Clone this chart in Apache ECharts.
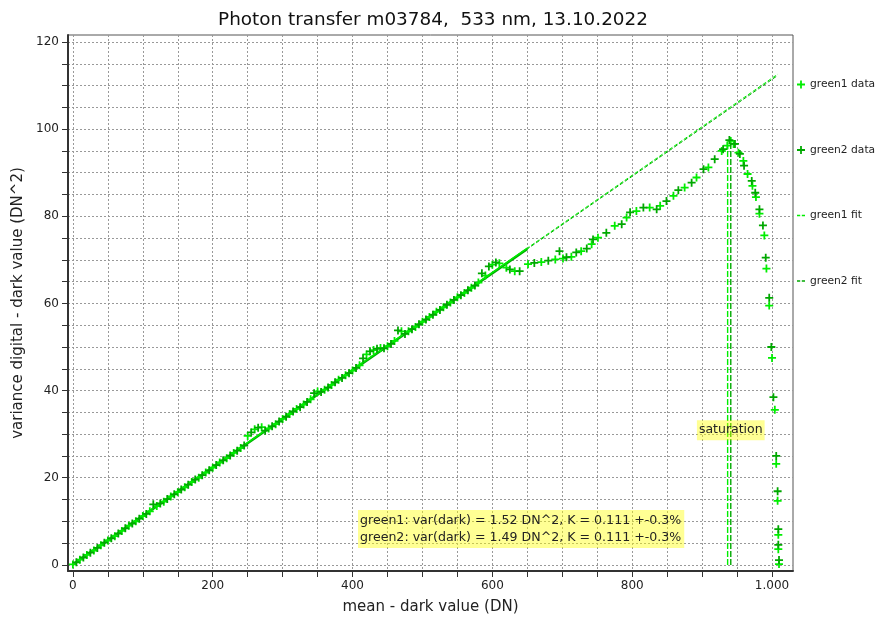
<!DOCTYPE html>
<html>
<head>
<meta charset="utf-8">
<script src="https://cdn.jsdelivr.net/npm/echarts@6/dist/echarts.min.js"></script>
<style>
  html, body { margin: 0; padding: 0; background: #fff; }
  #main { width: 878px; height: 621px; }
</style>
</head>
<body>
<div id="main"></div>
<script>
// green1 data (bright)
var g1X = [0,10,20,30,40,50,60,70,80,90,100,110,120,130,140,150,160,170,180,190,200,210,220,230,240,250,260,270,280,290,300,310,320,330,340,350,360,370,380,390,400,410,420,430,440,450,460,470,480,490,500,510,520,530,540,550,560,570,580,590,600,610,
  620,632,651,670,690,701,713,727,742,751,775,792,806,825,840,859,875,892,909,928,936,941,945,952,959,965,972,977,982,989,992,996,1000,1004,1006,1008,1009,1009,1010];
var g1Y = [0.1,1.2,2.3,3.3,4.5,5.6,6.6,7.8,9.0,10.0,11.2,12.3,13.5,14.5,15.7,16.7,17.8,19.0,20.0,21.2,22.3,23.5,24.5,25.7,26.8,29.6,31.1,31.6,31.3,32.3,33.5,34.6,35.8,36.8,38.0,39.8,40.2,41.3,42.5,43.5,44.6,45.8,48.3,49.3,49.8,50.2,51.4,53.6,53.6,54.6,55.8,56.9,58.1,59.1,60.2,61.4,62.4,63.6,64.8,66.4,68.9,69.2,
  68.2,67.4,69.0,69.5,70.1,70.3,70.7,72.0,73.6,75.1,77.8,79.7,81.2,82.0,82.4,84.7,86.6,88.9,91.2,95.0,96.2,97.3,96.6,94.6,92.7,89.7,87.0,84.4,80.6,75.6,68.0,59.5,47.5,35.6,23.2,14.7,6.9,3.6,0.2];

// green2 data (dark)
var g2X = [5,15,25,35,45,55,65,75,85,95,105,115,125,135,145,155,165,175,185,195,205,215,225,235,245,255,265,275,285,295,305,315,325,335,345,355,365,375,385,395,405,415,425,435,445,455,465,475,485,495,505,515,525,535,545,555,565,575,585,595,605,
  625,639,660,680,696,706,720,735,744,763,785,797,816,835,849,866,885,902,918,930,939,947,954,960,971,976,982,987,991,996,999,1002,1006,1008,1009,1009,1010];
var g2Y = [0.6,1.7,2.8,3.9,5.1,6.1,7.2,8.4,9.5,10.6,11.7,13.9,14.1,15.1,16.2,17.3,18.4,19.6,20.6,21.7,22.9,24.0,25.1,26.2,27.4,30.4,31.5,30.8,31.8,32.9,34.0,35.2,36.2,37.4,39.4,39.7,40.7,41.9,42.9,44.0,45.2,47.4,49.0,49.6,49.7,50.7,53.8,53.0,54.1,55.2,56.3,57.4,58.5,59.7,60.8,61.9,63.0,64.1,66.9,68.5,69.4,
  67.8,67.4,69.3,69.8,72.0,70.6,71.7,72.6,74.7,76.2,78.2,80.9,82.0,81.6,83.5,86.0,87.7,90.8,93.1,95.4,97.5,96.6,94.3,91.6,88.1,85.4,81.6,77.9,70.5,61.3,50.0,38.5,25.0,16.9,8.2,4.6,1.1];

// fits: fitted range (solid) and extrapolation (dashed)
var fitX = [0, 650, 1008];
var g1Fit = [0.2, 72.7, 112.6];
var g2Fit = [0.1, 72.5, 112.3];

// saturation markers
var satX = [936.5, 941];
var satTop = [97.3, 97.3];
var satLabel = { x: 941, y: 30.9, text: 'saturation' };

var xTicks = [0,50,100,150,200,250,300,350,400,450,500,550,600,650,700,750,800,850,900,950,1000];
var xLabels = [0,200,400,600,800,1000];
var yTicks = [0,5,10,15,20,25,30,35,40,45,50,55,60,65,70,75,80,85,90,95,100,105,110,115,120];
var yLabels = [0,20,40,60,80,100,120];

var infoLines = [
  'green1: var(dark) = 1.52 DN^2, K = 0.111 +-0.3%',
  'green2: var(dark) = 1.49 DN^2, K = 0.111 +-0.3%'
];

var C1 = '#00ee00';
var C2 = '#00a800';
var PLUS = 'path://M3.5,0H5.5V3.5H9V5.5H5.5V9H3.5V5.5H0V3.5H3.5Z';
var DASH = 'path://M0,0H4V2H0Z M6,0H10V2H6Z';
var FONT = 'DejaVu Sans';

function pairs(xs, ys) {
  return xs.map(function (x, i) { return [x, ys[i]]; });
}

var myChart = echarts.init(document.getElementById('main'));

var option = {
  animation: false,
  backgroundColor: '#fff',
  textStyle: { fontFamily: FONT },
  title: {
    text: 'Photon transfer m03784,  533 nm, 13.10.2022',
    left: 428,
    textAlign: 'center',
    top: 6,
    textStyle: { fontFamily: FONT, fontSize: 18.4, fontWeight: 'normal', color: '#111' }
  },
  legend: {
    data: [
      { name: 'green1 data', icon: PLUS, itemStyle: { color: C1 } },
      { name: 'green2 data', icon: PLUS, itemStyle: { color: C2 } },
      { name: 'green1 fit', icon: DASH, itemStyle: { color: C1, opacity: 1 } },
      { name: 'green2 fit', icon: DASH, itemStyle: { color: C2, opacity: 1 } }
    ],
    orient: 'vertical',
    left: 797,
    top: 79,
    padding: 0,
    itemGap: 54.5,
    itemWidth: 8,
    itemHeight: 8,
    symbolKeepAspect: true,
    textStyle: { fontFamily: FONT, fontSize: 10.7, color: '#222' }
  },
  grid: {
    left: 68, right: 85, top: 35, bottom: 50,
    show: true, borderColor: '#555', borderWidth: 1
  },
  xAxis: {
    type: 'value',
    min: -7, max: 1030,
    name: 'mean - dark value (DN)',
    nameLocation: 'middle',
    nameGap: 29,
    nameTextStyle: { fontFamily: FONT, fontSize: 15, color: '#222' },
    axisLine: { onZero: false, lineStyle: { color: '#333', width: 2 } },
    axisTick: { customValues: xTicks, length: 6, lineStyle: { color: '#333' } },
    axisLabel: {
      customValues: xLabels,
      fontFamily: FONT, fontSize: 12, color: '#222', margin: 9,
      formatter: function (v) { return v === 1000 ? '1.000' : String(v); }
    },
    splitLine: { show: true, lineStyle: { color: '#999', type: [2, 2], width: 1 } }
  },
  yAxis: {
    type: 'value',
    min: -1.4, max: 121.6,
    name: 'variance digital - dark value (DN^2)',
    nameLocation: 'middle',
    nameGap: 42,
    nameTextStyle: { fontFamily: FONT, fontSize: 15, color: '#222' },
    axisLine: { show: true, onZero: false, lineStyle: { color: '#333', width: 2 } },
    axisTick: { show: true, customValues: yTicks, length: 6, lineStyle: { color: '#333' } },
    axisLabel: { customValues: yLabels, fontFamily: FONT, fontSize: 12, color: '#222', margin: 9 },
    splitLine: { show: true, lineStyle: { color: '#999', type: [2, 2], width: 1 } }
  },
  graphic: [{
    type: 'text',
    left: 358,
    top: 510,
    z: 50,
    style: {
      text: infoLines.join('\n'),
      fontFamily: FONT,
      fontSize: 12.6,
      lineHeight: 17,
      fill: '#222',
      backgroundColor: 'rgba(255,255,0,0.42)',
      padding: [2, 3, 2, 2]
    }
  }],
  series: [
    {
      name: 'green2 fit',
      type: 'line',
      data: pairs(fitX, g2Fit),
      symbol: 'none',
      lineStyle: { color: C2, width: 1, type: [4, 2] },
      itemStyle: { color: C2 },
      z: 3
    },
    {
      name: 'green1 fit',
      type: 'line',
      data: pairs(fitX, g1Fit),
      symbol: 'none',
      lineStyle: { color: C1, width: 1, type: [4, 2] },
      itemStyle: { color: C1 },
      z: 3
    },
    {
      name: 'green2 fit',
      type: 'line',
      data: pairs(fitX.slice(0, 2), g2Fit.slice(0, 2)),
      symbol: 'none',
      lineStyle: { color: C2, width: 2.5 },
      itemStyle: { color: C2 },
      z: 4
    },
    {
      name: 'green1 fit',
      type: 'line',
      data: pairs(fitX.slice(0, 2), g1Fit.slice(0, 2)),
      symbol: 'none',
      lineStyle: { color: C1, width: 1.5 },
      itemStyle: { color: C1 },
      z: 4
    },
    {
      name: 'green1 data',
      type: 'scatter',
      data: pairs(g1X, g1Y),
      symbol: PLUS,
      symbolSize: 8,
      itemStyle: { color: C1, opacity: 1 },
      z: 5,
      markPoint: {
        symbol: 'rect',
        symbolSize: 1,
        itemStyle: { color: 'rgba(0,0,0,0)' },
        label: {
          show: true,
          position: 'inside',
          formatter: satLabel.text,
          fontFamily: FONT,
          fontSize: 12.5,
          color: '#222',
          backgroundColor: 'rgba(255,255,0,0.42)',
          padding: [4, 2, 3, 2]
        },
        data: [{ coord: [satLabel.x, satLabel.y] }],
        z: 40
      }
    },
    {
      name: 'green2 data',
      type: 'scatter',
      data: pairs(g2X, g2Y),
      symbol: PLUS,
      symbolSize: 8,
      itemStyle: { color: C2, opacity: 1 },
      z: 5
    },
    {
      name: 'sat1',
      type: 'line',
      data: [[satX[0], 0], [satX[0], satTop[0]]],
      symbol: 'none',
      lineStyle: { color: C1, width: 1.4, type: [6, 2] },
      z: 6
    },
    {
      name: 'sat2',
      type: 'line',
      data: [[satX[1], 0], [satX[1], satTop[1]]],
      symbol: 'none',
      lineStyle: { color: C2, width: 1.4, type: [6, 2] },
      z: 6
    }
  ]
};

myChart.setOption(option);
</script>
</body>
</html>
